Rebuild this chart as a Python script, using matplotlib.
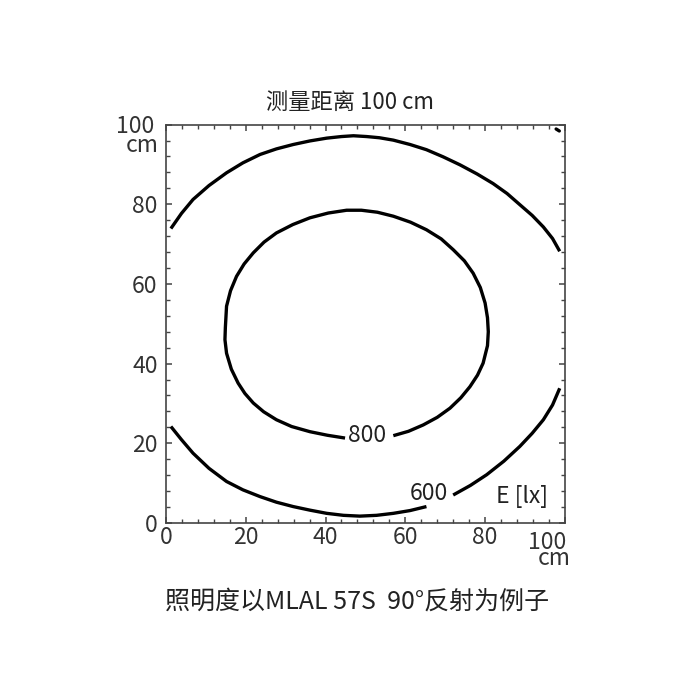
import numpy as np
import matplotlib
matplotlib.use('Agg')
import matplotlib.pyplot as plt

plt.rcParams['font.family'] = ['Noto Sans CJK SC', 'DejaVu Sans']

title = '测量距离 100 cm'
caption = '照明度以MLAL 57S  90°反射为例子'
unit_label = 'E [lx]'
end_label = '100 \ncm'

# contour traces (cm)
c800_x = [44.9, 40.5, 36.1, 31.5, 27.7, 24.5, 21.9, 19.8, 18.1, 16.4, 15.2, 14.8, 14.9, 15.2, 16.2, 17.7,
          19.6, 21.9, 24.6, 27.7, 31.8, 36.1, 40.7, 45.3, 49.0, 53.0, 57.0, 61.3, 65.3, 69.0, 72.0, 74.8,
          77.0, 78.8, 80.0, 80.6, 80.8, 80.6, 79.5, 78.1, 76.2, 73.9, 71.2, 68.0, 64.5, 60.8, 57.0]
c800_y = [21.3, 22.0, 22.9, 24.2, 25.9, 27.9, 30.1, 32.5, 35.1, 38.6, 42.6, 46.0, 49.0, 54.4, 58.3, 61.9,
          65.0, 67.8, 70.5, 72.8, 74.9, 76.6, 77.8, 78.5, 78.5, 78.0, 77.0, 75.5, 73.6, 71.3, 68.6, 65.8,
          62.7, 59.1, 55.2, 51.5, 48.0, 44.5, 40.1, 37.1, 34.2, 31.4, 28.8, 26.5, 24.6, 23.0, 21.9]

c600_top_x = [1.25, 3.9, 6.8, 10.8, 15.2, 19.3, 23.6, 27.7, 31.9, 36.1, 40.3, 44.0, 47.0, 50.3, 53.5,
              57.0, 61.2, 65.3, 69.5, 73.7, 78.0, 82.0, 85.5, 88.7, 91.8, 94.6, 96.9, 98.7]
c600_top_y = [73.9, 77.7, 81.2, 84.7, 87.9, 90.4, 92.5, 93.9, 95.0, 95.9, 96.6, 97.0, 97.2, 97.0, 96.7,
              96.1, 95.0, 93.7, 91.9, 89.9, 87.6, 85.2, 82.7, 79.9, 77.2, 74.3, 71.4, 68.2]

c600_low_x = [1.25, 3.9, 6.8, 10.8, 15.2, 19.3, 23.6, 27.7, 31.9, 36.1, 40.3, 44.5, 48.6, 52.8, 57.0, 61.2, 65.3]
c600_low_y = [24.2, 20.9, 17.5, 13.7, 10.4, 8.3, 6.6, 5.2, 4.1, 3.2, 2.4, 1.9, 1.7, 1.9, 2.4, 3.1, 4.1]

c600_right_x = [72.0, 76.3, 80.4, 84.7, 88.7, 91.8, 94.6, 96.9, 98.7]
c600_right_y = [7.0, 9.4, 12.1, 15.5, 19.2, 22.5, 25.9, 29.6, 33.8]

c600_corner_x = [97.8, 98.6]
c600_corner_y = [98.9, 98.4]

labels = ['800', '600']
label_x = [50.3, 65.8]
label_y = [22.0, 7.3]

ticks = [0, 20, 40, 60, 80, 100]
tick_labels = ['0', '20', '40', '60', '80', '']

fig = plt.figure(figsize=(7, 7), dpi=100)
ax = fig.add_axes([0.237, 0.253, 0.570, 0.569])

lw = 2.4
for xs, ys in [(c800_x, c800_y), (c600_top_x, c600_top_y), (c600_low_x, c600_low_y),
               (c600_right_x, c600_right_y)]:
    ax.plot(xs, ys, color='black', lw=lw, solid_capstyle='butt', solid_joinstyle='round')
ax.plot(c600_corner_x, c600_corner_y, color='black', lw=lw, solid_capstyle='round')

fs = 16.5
for t, x, y in zip(labels, label_x, label_y):
    ax.text(x, y, t, ha='center', va='center', fontsize=fs, color='#222222')
ax.text(89.2, 6.6, unit_label, ha='center', va='center', fontsize=fs, color='#222222')

ax.set_xlim(0, 100)
ax.set_ylim(0, 100)
ax.set_xticks(ticks)
ax.set_yticks(ticks)
ax.set_xticklabels(tick_labels)
ax.set_yticklabels(tick_labels)
ax.set_xticks(np.arange(0, 101, 4), minor=True)
ax.set_yticks(np.arange(0, 101, 4), minor=True)
ax.tick_params(which='both', direction='in', top=True, right=True, colors='#444444',
               labelcolor='#333333', labelsize=fs)
ax.tick_params(which='major', length=4.5, width=1.1)
ax.tick_params(which='minor', length=3, width=1.0)
ax.tick_params(axis='y', pad=6)
ax.tick_params(axis='x', pad=2)
for s in ax.spines.values():
    s.set_color('#444444')
    s.set_linewidth(1.2)

# "100 / cm" end labels, placed in pixels (baseline of the "cm" line)
fig.text(159 / 700, 1 - 152 / 700, end_label, ha='right', va='baseline', ma='right',
         fontsize=fs, color='#333333', linespacing=0.76)
fig.text(571 / 700, 1 - 565 / 700, end_label, ha='right', va='baseline', ma='right',
         fontsize=fs, color='#333333', linespacing=0.62)

fig.text(0.5, 0.853, title, ha='center', va='center', fontsize=16, color='#222222')
fig.text(0.51, 0.14, caption, ha='center', va='center', fontsize=18, color='#222222')

fig.savefig('out.png', dpi=100)
